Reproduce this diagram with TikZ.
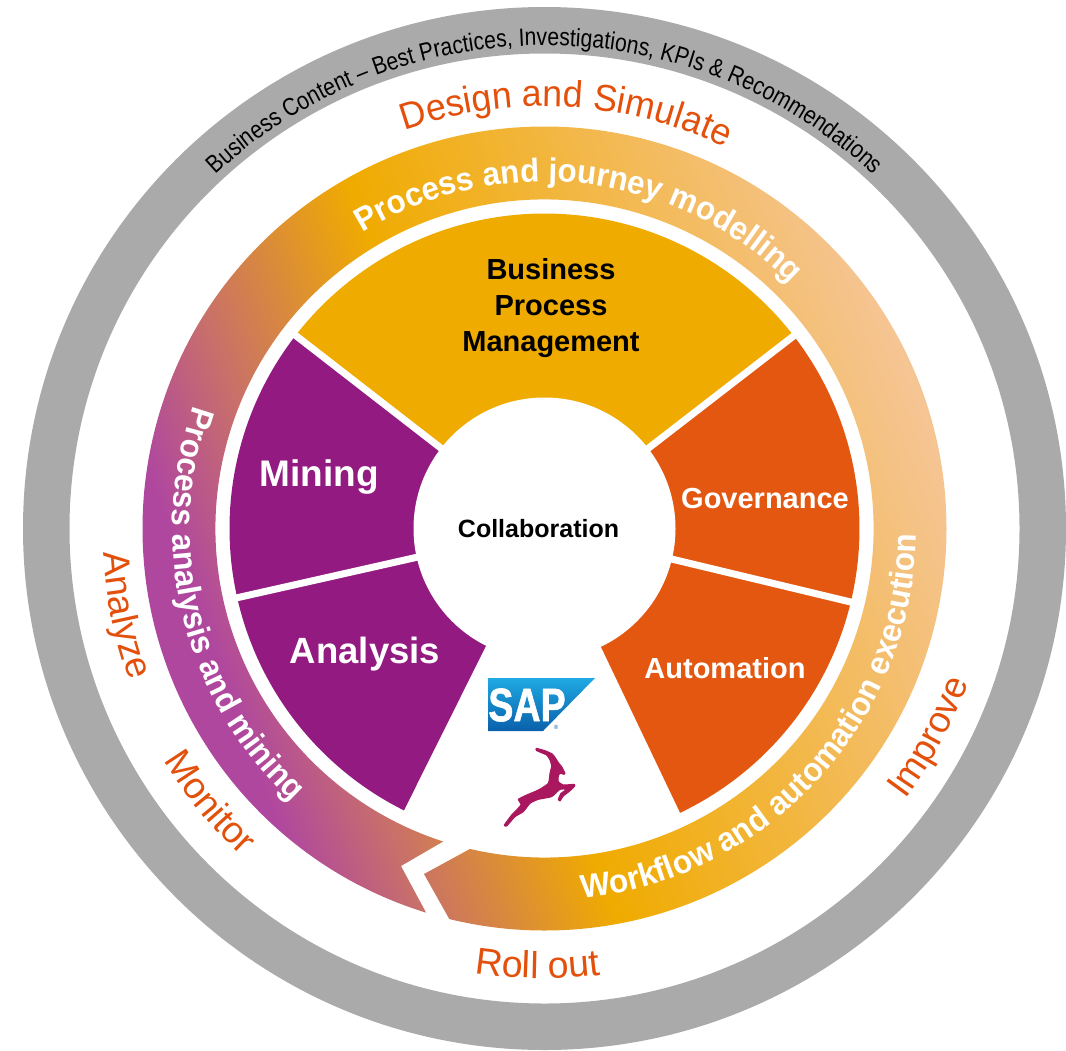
\documentclass[tikz,border=0pt]{standalone}
\usepackage{fontspec}
\setmainfont{Liberation Sans}
\newfontfamily\narrowfont[FakeStretch=0.845]{Liberation Sans}
\newfontfamily\tallfont[FakeStretch=0.955]{Liberation Sans}
\newfontfamily\logofont[FakeStretch=0.8,FakeBold=1.2]{Liberation Sans}
\usetikzlibrary{decorations.text}
\definecolor{ringgray}{HTML}{AAAAAA}
\definecolor{bpmgold}{HTML}{F0AB00}
\definecolor{segorange}{HTML}{E35711}
\definecolor{segpurple}{HTML}{921A80}
\definecolor{phaseorange}{HTML}{E3500C}
\definecolor{gazelle}{HTML}{A9185F}
\definecolor{gpurple}{HTML}{B0479F}
\definecolor{gbrown}{HTML}{C8706A}
\definecolor{gpeach}{HTML}{F5C595}
\definecolor{saptop}{HTML}{1FA9E2}
\definecolor{sapbot}{HTML}{0A60AC}
\pgfdeclarehorizontalshading{ringgrad}{100bp}{
  color(0bp)=(gpurple); color(28bp)=(gpurple); color(34.6bp)=(gbrown);
  color(45.9bp)=(bpmgold); color(75bp)=(gpeach); color(100bp)=(gpeach)}
\newcommand{\fsz}[1]{\fontsize{#1}{#1}\selectfont}
% colour, font commands, text, radius, from angle, to angle
\newcommand{\curvetext}[6]{%
  \path[decorate,decoration={text along path,text align=center,
    text={|\color{#1}#2|#3}}]
    (#5:#4) arc[start angle=#5,end angle=#6,radius=#4];}
\tikzset{
  ringcoords/.style={shift={(544.5,528.5)},y=1pt},
  seglabel/.style={text=white,font=\bfseries\fsz{#1},inner sep=0pt},
  blacklabel/.style={text=black,font=\bfseries\fontsize{#1}{36}\selectfont,inner sep=0pt,align=center}
}
\begin{document}
\begin{tikzpicture}[x=1pt,y=-1pt]
\useasboundingbox (0,0) rectangle (1066,1050);
\begin{scope}[ringcoords]
  % outer grey ring
  \fill[ringgray,even odd rule] (0,0) circle (521.5) (0,0) circle (475);
  % coloured arrow ring
  \begin{scope}
    \clip (256.3:402) arc[start angle=256.3,end angle=612.87,radius=402]
      -- (-143.5,-337.5) -- (612.06:329)
      arc[start angle=612.06,end angle=256.9,radius=329]
      -- (-120.5,-345.5) -- cycle;
    \shade[shading=ringgrad,shading angle=20] (0,0) circle (402);
  \end{scope}
  % segments
  \fill[bpmgold] (0,0) -- (37.7:315) arc[start angle=37.7,end angle=142.2,radius=315] -- cycle;
  \fill[segpurple] (0,0) -- (142.2:315) arc[start angle=142.2,end angle=243.5,radius=315] -- cycle;
  \fill[segorange] (0,0) -- (295.5:315) arc[start angle=295.5,end angle=397.7,radius=315] -- cycle;
  \foreach \a in {37.7,142.2,192.7,346.5}
    \draw[white,line width=7pt] (0,0) -- (\a:320);
  \fill[white] (0,0) circle (131);
  % curved texts
  \curvetext{black}{\narrowfont\fsz{25}}{Business Content – Best Practices, Investigations, KPIs {\&} Recommendations}{483}{150}{30}
  \curvetext{phaseorange}{\tallfont\fsz{37.4}}{Design and Simulate}{422}{117}{57}
  \curvetext{white}{\tallfont\bfseries\fsz{32.8}}{Process and journey modelling}{347}{133.2}{33.2}
  \curvetext{white}{\tallfont\bfseries\fsz{33}}{Process analysis and mining}{372}{144}{244}
  \curvetext{white}{\tallfont\bfseries\fsz{33}}{Workflow and automation execution}{372}{262.45}{372.45}
  \curvetext{phaseorange}{\fsz{37}}{Analyze}{442}{171.7}{211.7}
  \curvetext{phaseorange}{\fsz{37}}{Monitor}{446}{199.3}{239.3}
  \curvetext{phaseorange}{\fsz{37.5}}{Roll out}{450}{249.1}{289.1}
  \curvetext{phaseorange}{\fsz{37}}{Improve}{451}{311.6}{351.6}
\end{scope}
% straight labels
\node[blacklabel=29] (bpm) at (551,308) {Business\\Process\\Management};
\node[blacklabel=25] (collab) at (538.5,529) {Collaboration};
\node[seglabel=37] (mining) at (319,477) {Mining};
\node[seglabel=36.5] (analysis) at (365,654) {Analysis};
\node[seglabel=29] (gov) at (765,499) {Governance};
\node[seglabel=29] (auto) at (725,668) {Automation};
% SAP logo
\shade[top color=saptop,bottom color=sapbot] (488,678) -- (595,678) -- (543,731) -- (488,731) -- cycle;
\node[text=white,font=\logofont\bfseries\fsz{47},inner sep=0pt] (sap) at (527,705) {SAP};
\node[text=sapbot,font=\fsz{6},inner sep=0pt] (reg) at (556,727) {®};
% gazelle
\begin{scope}[shift={(495,740)},x=0.3333pt,y=-0.3333pt]
\filldraw[gazelle,line width=1pt,line join=round] plot[smooth cycle,tension=0.3] coordinates {
 (124,25) (150,32) (172,42) (182,55) (190,68) (200,80) (210,100) (207,103) (195,100) (190,108)
 (190,125) (205,135) (238,133) (238,140) (222,155) (205,168) (195,183) (190,178) (198,160)
 (215,148) (195,148) (170,170) (130,178) (105,190) (85,215) (60,230) (35,258) (28,255)
 (50,225) (78,195) (70,178) (95,165) (130,150) (160,130) (165,100) (170,78) (165,60) (155,45) (125,32)};
\end{scope}
\end{tikzpicture}
\end{document}
